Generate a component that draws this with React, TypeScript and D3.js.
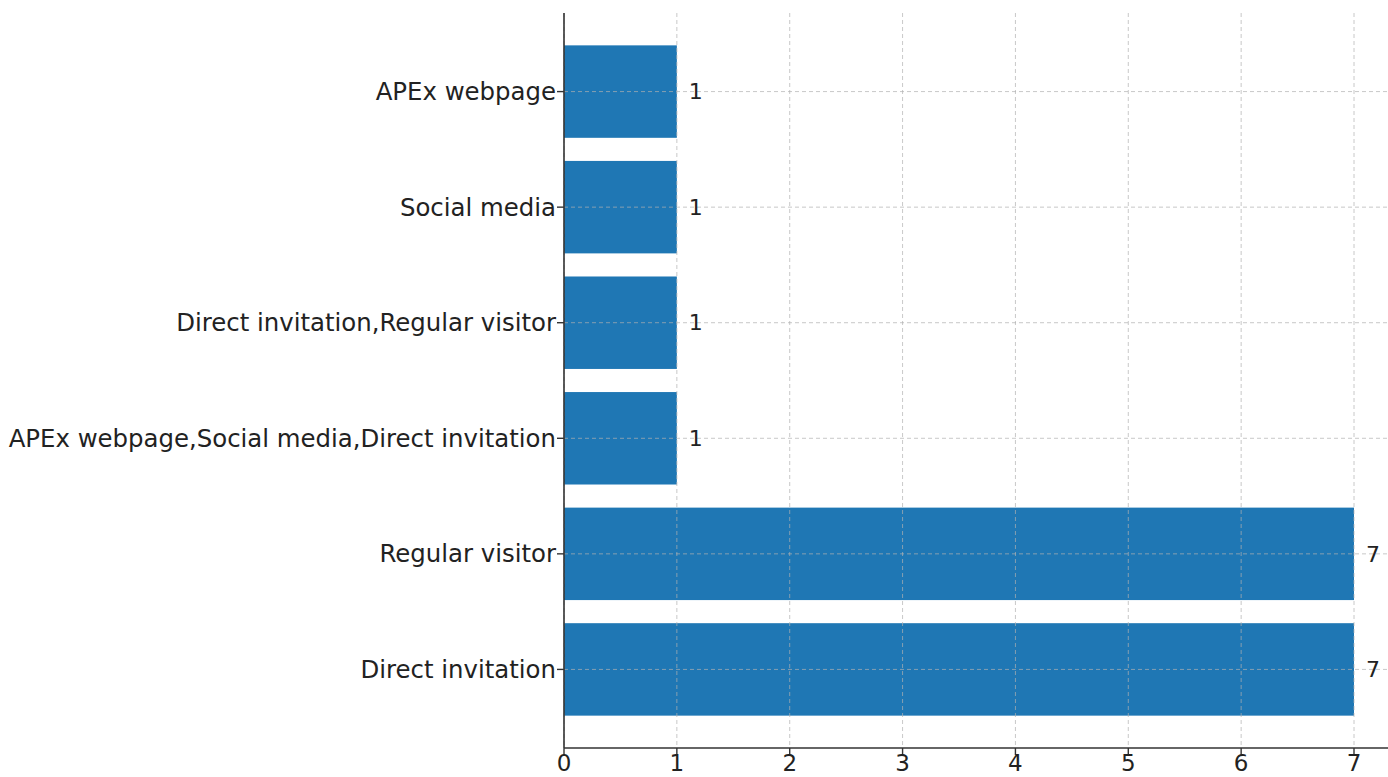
import React from "react";
import * as d3 from "d3";

const categories = [
  "Direct invitation",
  "Regular visitor",
  "APEx webpage,Social media,Direct invitation",
  "Direct invitation,Regular visitor",
  "Social media",
  "APEx webpage",
];
const counts = [7, 7, 1, 1, 1, 1];
const xTicks = [0, 1, 2, 3, 4, 5, 6, 7];

const W = 1388;
const H = 777;
const left = 564;
const top = 13;
const bottom = 748;
const FONT = "DejaVu Sans, sans-serif";

export default function App() {
  const x = d3.scaleLinear().domain([0, 7.35]).range([left, 1393.5]);
  const y = d3
    .scaleBand<string>()
    .domain([...categories].reverse())
    .range([top, bottom])
    .paddingInner(0.2)
    .paddingOuter(0.28);
  const bw = y.bandwidth();
  const textColor = "#222";
  return (
    <svg
      width={W}
      height={H}
      style={{ position: "absolute", left: 0, top: 0, background: "#fff" }}
      fontFamily={FONT}
    >
      {/* bars */}
      {categories.map((c, i) => (
        <rect
          key={c}
          x={x(0)}
          y={y(c)!}
          width={x(counts[i]) - x(0)}
          height={bw}
          fill="#1f77b4"
        />
      ))}
      {/* grid */}
      <g stroke="#b0b0b0" strokeOpacity={0.7} strokeWidth={1} strokeDasharray="4,3">
        {xTicks.map((t) => (
          <line key={"gx" + t} x1={x(t)} x2={x(t)} y1={top} y2={bottom} />
        ))}
        {categories.map((c) => (
          <line
            key={"gy" + c}
            x1={left}
            x2={W}
            y1={y(c)! + bw / 2}
            y2={y(c)! + bw / 2}
          />
        ))}
      </g>
      {/* spines */}
      <line x1={left} x2={left} y1={top} y2={bottom} stroke="#333" strokeWidth={1.6} />
      <line x1={left} x2={W} y1={bottom} y2={bottom} stroke="#333" strokeWidth={1.6} />
      {/* x ticks */}
      {xTicks.map((t) => (
        <g key={"xt" + t}>
          <line x1={x(t)} x2={x(t)} y1={bottom} y2={bottom + 7} stroke="#333" strokeWidth={1.4} />
          <text
            x={x(t)}
            y={bottom + 23}
            textAnchor="middle"
            fontSize={23}
            fill={textColor}
          >
            {t}
          </text>
        </g>
      ))}
      {/* y ticks */}
      {categories.map((c) => (
        <g key={"yt" + c}>
          <line
            x1={left - 7}
            x2={left}
            y1={y(c)! + bw / 2}
            y2={y(c)! + bw / 2}
            stroke="#333"
            strokeWidth={1.4}
          />
          <text
            x={left - 8}
            y={y(c)! + bw / 2}
            dy="0.35em"
            textAnchor="end"
            fontSize={24.4}
            fill={textColor}
          >
            {c}
          </text>
        </g>
      ))}
      {/* value labels */}
      {categories.map((c, i) => (
        <text
          key={"v" + c}
          x={x(counts[i]) + 12}
          y={y(c)! + bw / 2}
          dy="0.35em"
          fontSize={22}
          fill={textColor}
        >
          {counts[i]}
        </text>
      ))}
    </svg>
  );
}
